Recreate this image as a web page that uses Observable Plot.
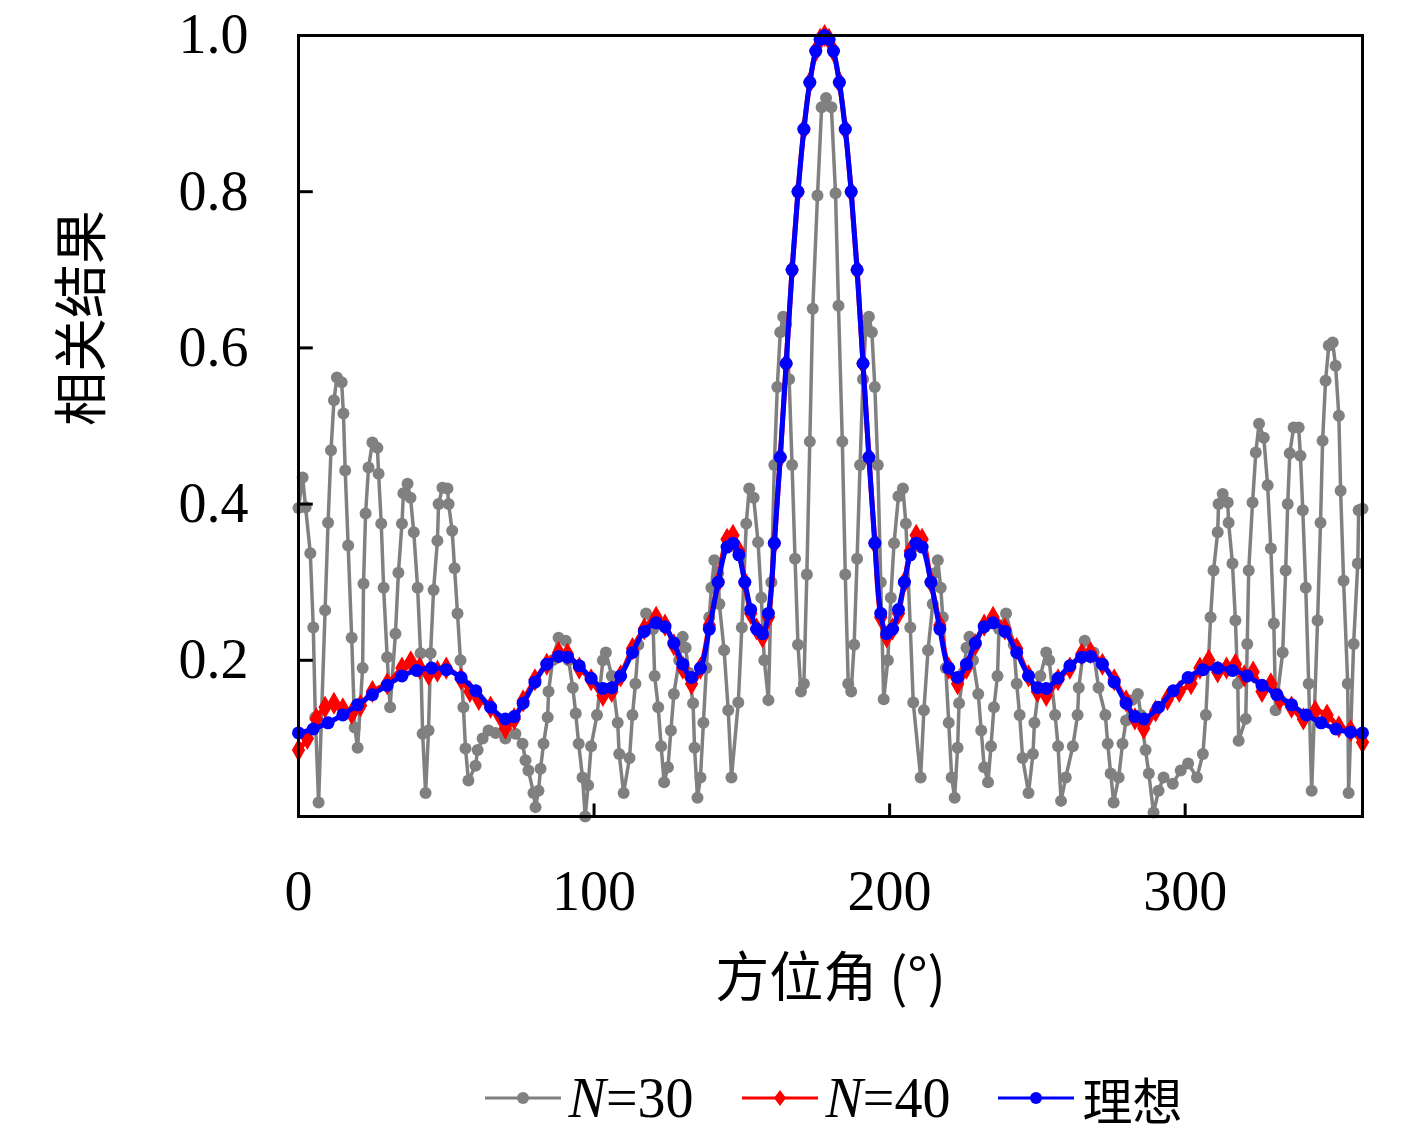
<!DOCTYPE html>
<html><head><meta charset="utf-8">
<script src="https://cdn.jsdelivr.net/npm/d3@7"></script>
<script src="https://cdn.jsdelivr.net/npm/@observablehq/plot@0.6"></script>
<style>
body{margin:0;background:#fff;font-family:"Liberation Serif",serif;}
#legend{display:flex;justify-content:center;gap:48px;margin-left:250px;margin-top:12px;font-size:56px;align-items:center;}
.item{display:flex;align-items:center;gap:8px;}
.cjk{font-family:"Noto Sans CJK SC";font-size:50px;}
</style></head><body>
<div id="chart"></div>
<div id="legend"></div>
<script>
const xTicks=[0,100,200,300];
const yTicks=[0.2,0.4,0.6,0.8,1.0];
const seriesNames=["N=30","N=40","理想"];
const seriesColors=["#808080","#ff0000","#0000ff"];

const gray=[[0,.395],[1.4,.434],[2.4,.396],[4,.337],[5,.242],[5.7,.127],[6.8,.018],[9,.264],[10,.376],[11,.469],[12,.533],[13,.562],[14.6,.556],[15.2,.516],[15.8,.443],[16.8,.347],[18,.229],[19,.114],[20,.088],[21.7,.19],[22,.298],[22.7,.388],[23.7,.447],[25,.479],[26.7,.472],[27.1,.439],[28,.375],[28.8,.293],[30,.204],[31,.14],[32.8,.234],[33.8,.312],[35,.375],[35.5,.414],[36.9,.426],[37.9,.408],[39,.364],[40.3,.293],[41.3,.209],[42,.106],[43,.03],[44,.11],[44.7,.209],[45.7,.29],[47,.353],[47.4,.40],[48.7,.421],[50.4,.42],[50.8,.40],[52,.366],[52.8,.318],[53.8,.26],[54.8,.20],[55.8,.14],[56.5,.087],[57.5,.046],[59.9,.065],[60.6,.085],[62.3,.10],[64.3,.11],[66.7,.107],[70,.10],[73.4,.106],[75.8,.093],[76.8,.072],[77.8,.059],[79.5,.03],[80.2,.012],[81.2,.033],[81.9,.061],[82.9,.093],[84.3,.127],[84.6,.16],[86,.20],[88,.229],[90.4,.225],[91.4,.20],[92.8,.165],[93.8,.132],[94.8,.093],[96.1,.05],[97,.0],
[98,.04],[99,.09],[101,.13],[103,.20],[104,.21],[106,.18],[108,.12],[108.5,.08],[110,.03],[112,.075],[113,.13],[114,.17],[115,.22],[117.6,.26],[120,.24],[120.5,.18],[121.7,.14],[122.7,.09],[123.7,.044],[125,.063],[126,.11],[127,.157],[128.8,.20],[130,.23],[131,.216],[132,.184],[133.5,.145],[134,.088],[135,.024],[136,.05],[137,.12],[138,.19],[139,.255],[139.7,.293],[140.7,.328],[142,.311],[142.4,.272],[144,.213],[145.4,.136],[146.5,.05],[148.8,.146],[150,.242],[151.5,.375],[152.5,.42],[154,.408],[155.5,.351],[156.6,.28],[157.6,.20],[159,.149],[160,.30],[161,.45],[162,.55],[163,.62],[164,.64],[165,.63],[166,.56],[167,.45],[168,.33],[169,.22],[170,.16],[171,.17],[172,.31],[173,.48],[174,.65],[175.6,.795],[177,.908],[178.5,.92],[180.3,.908],
[181.7,.798],[182.7,.654],[184,.48],[185,.31],[186,.17],[187,.16],[188,.22],[189,.33],[190,.45],[191,.56],[192,.63],[193,.64],[194,.62],[195,.55],[196,.45],[197,.30],[198,.15],[199.4,.20],[200.4,.28],[201.5,.35],[203,.41],[204.5,.42],[205.5,.375],[207,.242],[208,.146],[210.5,.05],[211.6,.136],[213,.213],[214.6,.272],[215,.311],[216.3,.328],[217.3,.293],[218,.255],[219,.19],[220,.12],[221,.05],[222,.024],[223,.088],[223.5,.145],[225,.184],[226,.216],[227,.23],[228.2,.20],[230,.157],[231,.11],[232,.063],[233.3,.044],[234.3,.09],[235.3,.14],[236.5,.18],[237,.24],[239.4,.26],[242,.22],[243,.17],[244,.13],[245,.075],[247,.03],[248.5,.08],[249,.12],[251,.18],[253,.21],[254,.20],[256,.13],[257,.09],[258,.02],
[259.6,.05],[262,.09],[263.6,.13],[264,.165],[266,.225],[269,.21],[270.7,.165],[273,.13],[273.8,.093],[274.8,.055],[275.8,.018],[277.5,.05],[278.8,.093],[280,.123],[282,.149],[284,.157],[285,.13],[286.6,.085],[287.7,.055],[289.3,.005],[291,.033],[292.7,.05],[295.8,.042],[298.5,.059],[301,.068],[304,.05],[306,.08],[307,.13],[308.6,.255],[309.6,.315],[311,.364],[311.3,.40],[312.7,.413],[314.4,.402],[314.7,.376],[316,.324],[317,.251],[317.8,.17],[318.1,.097],[320.5,.125],[321,.221],[321.5,.315],[322.8,.402],[323.9,.466],[325,.503],[326.6,.485],[327.9,.424],[329,.343],[330,.247],[330.6,.136],[333,.21],[334,.315],[334.7,.40],[335.4,.465],[336.7,.498],[338.4,.498],[339,.462],[339.8,.392],[340.8,.293],[341.8,.17],[342.8,.033],[344.8,.251],[345.8,.376],[346.5,.481],[347.5,.558],[348.6,.603],[349.9,.607],[350.9,.577],[352,.513],[352.6,.417],[353.6,.302],[355,.17],[355.3,.03],[357,.221],[358.4,.324],[358.7,.392],[360,.394]];

const ideal=[[0,.107],[5,.112],[10,.12],[15,.13],[20,.143],[25,.156],[30,.168],[35,.18],[40,.187],[45,.19],[50,.188],[55,.178],[60,.161],[65,.14],[70,.125],[73,.128],[76,.145],[80,.172],[84,.195],[88,.205],[91,.204],[95,.193],[99,.177],[103,.164],[106,.165],[109,.18],[113,.21],[117,.237],[121,.248],[124,.243],[127,.222],[130,.195],[133,.178],[136,.19],[139,.24],[142,.30],[145,.345],[147,.35],[149,.335],[151,.30],[153,.265],[155,.24],[157,.234],[159,.26],[161,.35],[163,.46],[165,.58],[167,.70],[169,.80],[171,.88],[173,.94],[175,.98],[176.5,.995],[178,1.0],[179.5,.995],[181,.98],[183,.94],[185,.88],[187,.80],[189,.70],[191,.58],[193,.46],[195,.35],[197,.26],[199,.234],[201,.24],[203,.265],[205,.30],[207,.335],[209,.35],[211,.345],[214,.30],[217,.24],[220,.19],[223,.178],[226,.195],[229,.222],[232,.243],[235,.248],[239,.237],[243,.21],[247,.18],[250,.165],[253,.164],[257,.177],[261,.193],[265,.204],[268,.205],[272,.195],[276,.172],[280,.145],[283,.128],[286,.125],[291,.14],[296,.161],[301,.178],[306,.188],[311,.19],[316,.187],[321,.18],[326,.168],[331,.156],[336,.143],[341,.13],[346,.12],[351,.112],[356,.108],[360,.107]];

const n40=[[0,.085],[3,.10],[6,.125],[9,.14],[12,.145],[15,.138],[18,.132],[21,.142],[25,.16],[30,.17],[35,.19],[38,.198],[41,.19],[44,.182],[47,.186],[50,.19],[55,.176],[58,.16],[61,.15],[65,.14],[70,.113],[73,.125],[76,.148],[80,.175],[84,.195],[88,.21],[91,.208],[95,.19],[99,.175],[103,.155],[106,.16],[109,.18],[113,.215],[117,.24],[121,.255],[124,.245],[127,.22],[130,.19],[133,.17],[136,.19],[139,.245],[142,.30],[145,.355],[147,.36],[149,.34],[151,.30],[153,.26],[155,.24],[157,.23],[159,.255],[161,.35],[163,.46],[165,.58],[167,.70],[169,.80],[171,.88],[173,.94],[175,.98],[176.5,.995],[178,1.0],[179.5,.995],[181,.98],[183,.94],[185,.88],[187,.80],[189,.70],[191,.58],[193,.46],[195,.35],[197,.255],[199,.23],[201,.24],[203,.26],[205,.30],[207,.34],[209,.36],[211,.355],[214,.30],[217,.245],[220,.19],[223,.17],[226,.19],[229,.22],[232,.245],[235,.255],[239,.24],[243,.215],[247,.18],[250,.16],[253,.155],[257,.175],[261,.19],[265,.208],[268,.21],[272,.195],[276,.175],[280,.148],[283,.125],[286,.113],[290,.135],[294,.15],[298,.16],[302,.17],[305,.19],[308,.20],[311,.185],[314,.19],[317,.195],[320,.18],[323,.185],[326,.16],[329,.17],[332,.15],[336,.14],[340,.125],[344,.135],[348,.13],[352,.115],[356,.11],[360,.095]];

const serif="Liberation Serif";
const chart=Plot.plot({
  width:1417,height:1050,marginLeft:298,marginRight:55,marginTop:35,marginBottom:234,
  style:{fontFamily:serif,background:"white",color:"black"},
  x:{domain:[0,360],axis:null},y:{domain:[0,1],axis:null},
  marks:[
    Plot.line(gray,{x:d=>d[0],y:d=>d[1],stroke:seriesColors[0],strokeWidth:3.5}),
    Plot.dot(gray,{x:d=>d[0],y:d=>d[1],fill:seriesColors[0],r:6}),
    Plot.line(n40,{x:d=>d[0],y:d=>d[1],stroke:seriesColors[1],strokeWidth:5,curve:"catmull-rom"}),
    Plot.dot(n40,{x:d=>d[0],y:d=>d[1],fill:seriesColors[1],symbol:"diamond",r:7}),
    Plot.line(ideal,{x:d=>d[0],y:d=>d[1],stroke:seriesColors[2],strokeWidth:5,curve:"catmull-rom"}),
    Plot.dot(ideal,{x:d=>d[0],y:d=>d[1],fill:seriesColors[2],r:6.5}),
    Plot.ruleX(xTicks,{x:d=>d,y1:0,y2:0.016,stroke:"black",strokeWidth:3}),
    Plot.ruleY(yTicks,{y:d=>d,x1:0,x2:5,stroke:"black",strokeWidth:3}),
    Plot.frame({stroke:"black",strokeWidth:3}),
    Plot.text(xTicks,{x:d=>d,y:0,dy:76,text:d=>String(d),fontSize:56,fill:"black"}),
    Plot.text(yTicks,{x:0,y:d=>d,dx:-50,textAnchor:"end",text:d=>d.toFixed(1),fontSize:56,fill:"black"}),
    Plot.text(["方位角 (°)"],{frameAnchor:"bottom",dy:180,text:d=>d,fontSize:54,fill:"black",fontFamily:"Noto Sans CJK SC"}),
    Plot.text(["相关结果"],{frameAnchor:"left",dx:-215,rotate:-90,text:d=>d,fontSize:54,fill:"black",fontFamily:"Noto Sans CJK SC"})
  ]
});
document.getElementById("chart").appendChild(chart);

const leg=document.getElementById("legend");
const markers=[
  c=>`<circle cx="38" cy="15" r="6" fill="${c}"/>`,
  c=>`<path d="M38,7 L44,15 L38,23 L32,15Z" fill="${c}"/>`,
  c=>`<circle cx="38" cy="15" r="6" fill="${c}"/>`
];
const labels=['<i>N</i>=30','<i>N</i>=40','<span class="cjk">理想</span>'];
seriesNames.forEach((n,i)=>{
  const d=document.createElement("div");d.className="item";
  d.innerHTML=`<svg width="76" height="30"><line x1="0" x2="76" y1="15" y2="15" stroke="${seriesColors[i]}" stroke-width="3"/>${markers[i](seriesColors[i])}</svg><span>${labels[i]}</span>`;
  leg.appendChild(d);
});
</script></body></html>
